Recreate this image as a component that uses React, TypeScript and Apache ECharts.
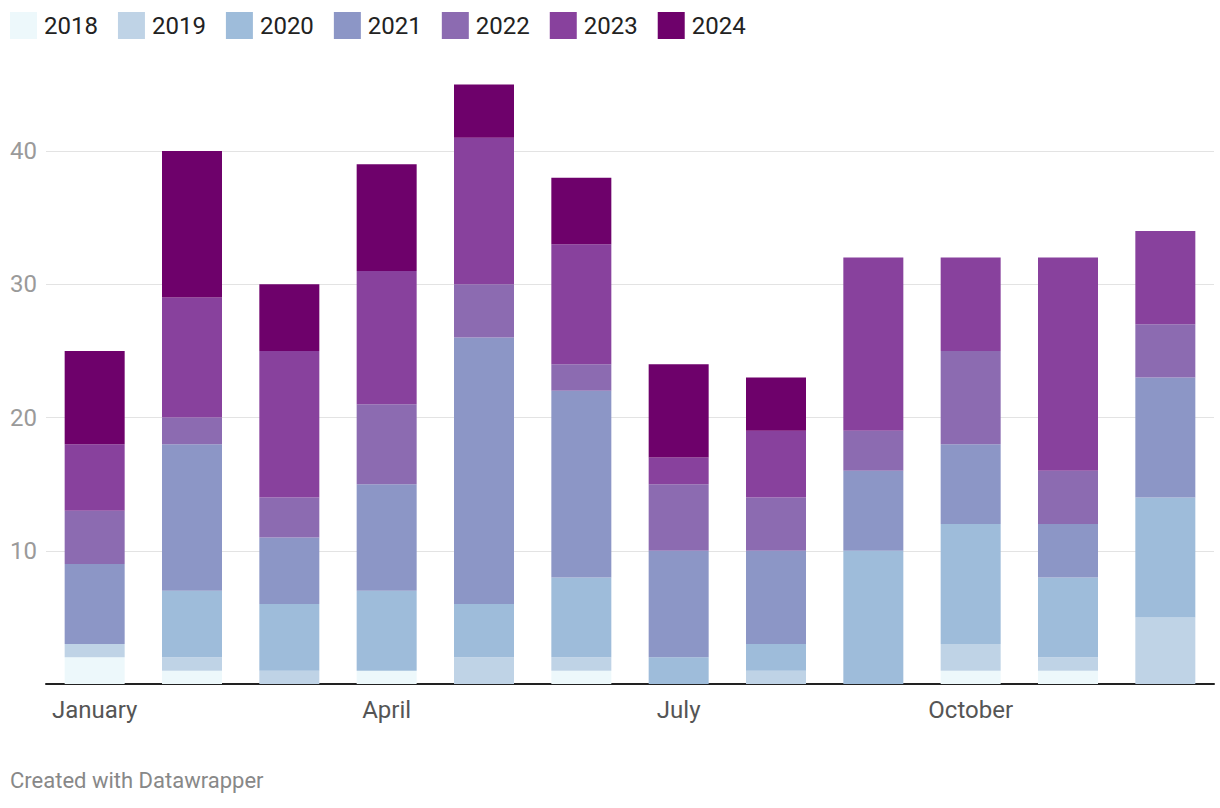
import React, { useEffect, useRef } from "react";
import * as echarts from "echarts";

const months = [
  "January", "February", "March", "April", "May", "June",
  "July", "August", "September", "October", "November", "December",
];
const years = ["2018", "2019", "2020", "2021", "2022", "2023", "2024"];
const v2018 = [2, 1, 0, 1, 0, 1, 0, 0, 0, 1, 1, 0];
const v2019 = [1, 1, 1, 0, 2, 1, 0, 1, 0, 2, 1, 5];
const v2020 = [0, 5, 5, 6, 4, 6, 2, 2, 10, 9, 6, 9];
const v2021 = [6, 11, 5, 8, 20, 14, 8, 7, 6, 6, 4, 9];
const v2022 = [4, 2, 3, 6, 4, 2, 5, 4, 3, 7, 4, 4];
const v2023 = [5, 9, 11, 10, 11, 9, 2, 5, 13, 7, 16, 7];
const v2024 = [7, 11, 5, 8, 4, 5, 7, 4, 0, 0, 0, 0];
const seriesValues = [v2018, v2019, v2020, v2021, v2022, v2023, v2024];
const colors = ["#edf8fb", "#bfd3e6", "#9ebcda", "#8c96c6", "#8c6bb1", "#88419d", "#6e016b"];
const yTicks = [0, 10, 20, 30, 40];

export default function App() {
  const ref = useRef<HTMLDivElement>(null);
  useEffect(() => {
    if (!ref.current) return;
    const chart = echarts.init(ref.current, null, { renderer: "svg" });
    const font = "Roboto, 'Noto Sans', sans-serif";
    chart.setOption({
      animation: false,
      textStyle: { fontFamily: font },
      legend: {
        left: 5,
        top: 7,
        icon: "rect",
        itemWidth: 27,
        itemHeight: 27,
        itemGap: 20,
        data: years,
        textStyle: { fontSize: 24, color: "#222", fontFamily: font, padding: [0, 0, 0, 2] },
        selectedMode: false,
      },
      grid: { left: 46, right: 6, top: 84.4, bottom: 124, containLabel: false },
      xAxis: {
        type: "category",
        data: months,
        axisLine: { show: true, lineStyle: { color: "#222", width: 2 } },
        axisTick: { show: false },
        axisLabel: {
          interval: 2,
          fontSize: 24,
          color: "#555",
          margin: 14,
          fontFamily: font,
        },
        splitLine: { show: false },
      },
      yAxis: {
        type: "value",
        min: 0,
        max: 45,
        interval: 10,
        axisLine: { show: false },
        axisTick: { show: false },
        axisLabel: {
          fontSize: 24,
          color: "#9a9a9a",
          align: "left",
          margin: 36,
          fontFamily: font,
          showMaxLabel: false,
          showMinLabel: false,
          formatter: (v: number) => (yTicks.includes(v) ? String(v) : ""),
        },
        splitLine: {
          show: true,
          showMaxLine: false,
          lineStyle: { color: "#e3e3e3", width: 1 },
        },
      },
      series: years.map((y, i) => ({
        name: y,
        type: "bar",
        stack: "total",
        barWidth: 60,
        itemStyle: { color: colors[i] },
        emphasis: { disabled: true },
        data: seriesValues[i],
      })),
      graphic: [
        {
          type: "text",
          left: 10,
          top: 769,
          style: {
            text: "Created with Datawrapper",
            fontSize: 22,
            fill: "#888",
            fontFamily: font,
          },
        },
      ],
    });
    return () => chart.dispose();
  }, []);
  return <div ref={ref} style={{ width: 1220, height: 808, position: "absolute", left: 0, top: 0 }} />;
}
